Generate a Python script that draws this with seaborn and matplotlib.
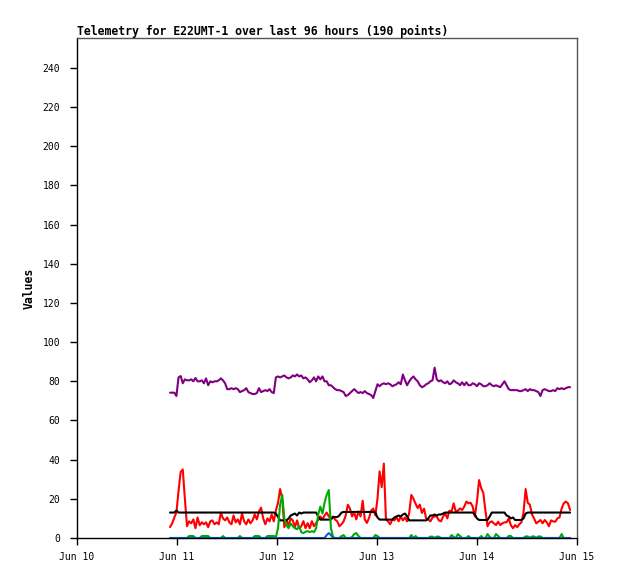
import pandas as pd
import seaborn as sns
import matplotlib.pyplot as plt
import matplotlib.dates as mdates

# 190 samples, last 96 hours
times = pd.date_range("2024-06-10 22:20", "2024-06-14 22:20", periods=190)

purple_vals = [
    74.2, 74.2, 74.2, 72.5, 82, 82.7, 79, 81, 80.5, 80.5,
    81, 80, 81.7, 80, 80, 80.5, 79, 81.5, 78, 80,
    79.5, 80, 80, 80.5, 81.5, 80.5, 79, 76, 76, 76.5,
    76, 76.5, 76, 74.5, 75, 75.5, 76.5, 74.5, 74, 73.5,
    73.5, 74, 76.5, 74.5, 75, 75.5, 75, 76, 74.5, 74,
    82, 82.5, 82, 82.5, 83, 82, 81.5, 82, 83, 82.5,
    83.5, 82.5, 83, 81.5, 82, 81, 79.5, 80.5, 82, 80,
    82.5, 81, 82.5, 80, 80, 78, 78, 77, 76, 75.5,
    75.5, 75, 74.5, 72.5, 73, 74, 75, 76, 75, 74,
    74.5, 74, 75, 74, 73.5, 73, 71.5, 75, 78.5, 77.5,
    78.5, 79, 78.5, 79, 78.5, 77.5, 78, 78.5, 79.5, 78.5,
    83.5, 80.5, 78, 80, 81.5, 82.5, 81, 80, 78, 77,
    77.5, 78.5, 79, 80, 80.5, 87, 81, 80, 80.5, 79.5,
    79, 80, 78.5, 79, 80.5, 79.5, 79, 78, 79.5, 78,
    79.5, 78, 78, 79, 78.5, 77.5, 79, 78.5, 77.5, 77.5,
    78, 79, 78, 77.5, 78, 77.5, 77, 78.5, 80, 78,
    76, 75.5, 75.5, 75.5, 75.5, 75, 75, 75.5, 76, 75,
    76, 75.5, 75.5, 75, 74.5, 72.5, 75.5, 76, 75.5, 75,
    75, 75.5, 75, 76.5, 76, 76.5, 76, 76.5, 77, 77,
]

red_vals = [
    5.6, 7.5, 10.5, 13, 24, 33.7, 35, 20, 6, 8.5,
    7.5, 9.5, 5, 10.5, 6.5, 8, 7, 8, 5.5, 8.5,
    9, 7, 8, 7, 13, 10, 9, 10.5, 8, 7,
    11.5, 8, 9.5, 7, 12.5, 8.5, 7, 9.5, 7.5, 9,
    12, 9.5, 13.5, 15.5, 10, 7, 10, 8.5, 12, 8.5,
    14, 18, 25, 20, 5.5, 9, 6.5, 10, 9, 5.5,
    9, 5, 6, 8.6, 5, 7.6, 5, 8.6, 6, 7.7,
    9.4, 11, 9.5, 11.5, 13, 11, 10, 11, 9.4, 8.5,
    6, 7, 8.5, 11.5, 17, 15, 11, 13, 9.5, 13.6,
    11, 19, 9.5, 7.7, 10.2, 14, 15, 11.5, 20, 34,
    26, 38, 9.5, 8.5, 7, 9.4, 9, 10.5, 8.5, 11,
    9, 10.5, 8.5, 13, 22, 20, 17.5, 15.3, 17, 12.8,
    15, 10, 9.4, 8.5, 10.5, 11, 11, 9, 8.5, 10.9,
    12.6, 10, 14, 13.4, 17.7, 13.4, 14, 15.1, 14.3, 16,
    18.6, 17.7, 18, 16, 11, 18.6, 29.6, 25.5, 23, 14,
    6, 8, 8.5, 7.5, 6.6, 8.3, 6.6, 7.5, 8, 8,
    10, 6.6, 5, 6.6, 5.5, 7, 8, 13, 25, 18,
    17, 12, 10, 7.5, 8.3, 9.2, 7.5, 9.2, 8, 6,
    9, 8.5, 8.3, 10, 10.5, 15, 17.7, 18.6, 17.7, 14.3,
]

black_vals = [
    13, 13, 13, 14, 13, 13, 13, 13, 13, 13,
    13, 13, 13, 13, 13, 13, 13, 13, 13, 13,
    13, 13, 13, 13, 13, 13, 13, 13, 13, 13,
    13, 13, 13, 13, 13, 13, 13, 13, 13, 13,
    13, 13, 13, 13, 13, 13, 13, 13, 13, 13,
    12.5, 10.7, 9, 9, 9, 9, 10, 11.5, 12, 12.5,
    11.5, 13, 12.5, 13, 13, 13, 13, 13, 13, 13,
    11, 9.4, 9.4, 9.4, 9.4, 9.4, 9.4, 10.7, 10.7, 10.7,
    11.5, 13, 13.3, 13.3, 13.3, 13.3, 13.3, 13.3, 13.3, 13.3,
    13.3, 13.3, 13.3, 13.3, 13.3, 13.3, 13.3, 13, 10.5, 9.4,
    9.4, 9.4, 9.4, 9.4, 9.4, 9.4, 10.5, 11, 11.5, 11,
    12, 12.5, 11, 9, 9, 9, 9, 9, 9, 9,
    9, 9, 10, 11.5, 11.5, 12, 11.5, 12, 12, 12.5,
    13, 13, 13, 13, 13, 13, 13, 13, 13, 13,
    13, 13, 13, 13, 12, 10, 9.2, 9.2, 9.2, 9.2,
    9.2, 11, 13, 13, 13, 13, 13, 13, 13, 11.5,
    11, 10, 10.5, 9.2, 9.2, 9.2, 9.2, 10, 12.5, 13,
    13, 13, 13, 13, 13, 13, 13, 13, 13, 13,
    13, 13, 13, 13, 13, 13, 13, 13, 13, 13,
]

green_vals = [
    0, 0, 0, 0, 0, 0, 0, 0, 0, 1,
    1, 1, 0, 0, 0, 1, 1, 1, 1, 0,
    0, 0, 0, 0, 0, 1, 0, 0, 0, 0,
    0, 0, 0, 1, 0, 0, 0, 0, 0, 0,
    1, 1, 1, 0, 0, 0, 1, 1, 1, 1,
    0.5, 5, 17, 22, 10, 6.5, 5, 7.5, 6, 5,
    4.5, 6, 3, 2.5, 3.2, 3.5, 3, 3.5, 3, 5,
    12, 16, 12.5, 18, 22, 24.5, 5, 0.5, 0, 0,
    0, 1, 1.5, 0, 0, 0, 0.5, 2, 2.5, 1,
    0, 0, 0, 0, 0, 0, 0, 1.5, 1, 0,
    0, 0, 0, 0, 0, 0, 0, 0, 0, 0,
    0, 0, 0, 0, 1.5, 0, 1, 0, 0, 0,
    0, 0, 0, 0.7, 0.7, 0, 0.7, 0.7, 0, 0,
    0, 0, 0, 1.5, 0.5, 0, 2, 1, 0, 0,
    0, 1, 0, 0, 0, 0, 0, 1, 0, 0,
    2, 0.5, 0, 0, 2, 1, 0, 0, 0, 0,
    1, 1, 0, 0, 0, 0, 0, 0, 0.8, 0.8,
    0, 0.8, 0.8, 0, 0.8, 0.8, 0, 0, 0, 0,
    0, 0, 0, 0, 0, 2, 0, 0, 0, 0,
]

blue_vals = [
    0, 0, 0, 0, 0, 0, 0, 0, 0, 0,
    0, 0, 0, 0, 0, 0, 0, 0, 0, 0,
    0, 0, 0, 0, 0, 0, 0, 0, 0, 0,
    0, 0, 0, 0, 0, 0, 0, 0, 0, 0,
    0, 0, 0, 0, 0, 0, 0, 0, 0, 0,
    0, 0, 0, 0, 0, 0, 0, 0, 0, 0,
    0, 0, 0, 0, 0, 0, 0, 0, 0, 0,
    0, 0, 0, 0, 1.5, 2.5, 1.5, 0, 0, 0,
    0, 0, 0, 0, 0, 0, 0, 0, 0, 0,
    0, 0, 0, 0, 0, 0, 0, 0, 0, 0,
    0, 0, 0, 0, 0, 0, 0, 0, 0, 0,
    0, 0, 0, 0, 0, 0, 0, 0, 0, 0,
    0, 0, 0, 0, 0, 0, 0, 0, 0, 0,
    0, 0, 0, 0, 0, 0, 0, 0, 0, 0,
    0, 0, 0, 0, 0, 0, 0, 0, 0, 0,
    0, 0, 0, 0, 0, 0, 0, 0, 0, 0,
    0, 0, 0, 0, 0, 0, 0, 0, 0, 0,
    0, 0, 0, 0, 0, 0, 0, 0, 0, 0,
    0, 0, 0, 0, 0, 0, 0, 0, 0, 0,
]

series_names = ['purple', 'red', 'black', 'green', 'blue']
series_colors = ['#800080', '#ff0000', '#000000', '#00aa00', '#0066cc']
series_vals = [purple_vals, red_vals, black_vals, green_vals, blue_vals]

df = pd.concat(
    [pd.DataFrame({'time': times, 'value': v, 'series': n})
     for n, v in zip(series_names, series_vals)],
    ignore_index=True)

sns.set_style('ticks')
plt.rcParams['font.family'] = ['DejaVu Sans Mono']
plt.rcParams['text.color'] = 'black'
plt.rcParams['axes.labelcolor'] = 'black'

fig = plt.figure(figsize=(6.18, 5.79), dpi=100)
ax = fig.add_axes([0.1246, 0.0708, 0.8091, 0.8636])

sns.lineplot(data=df, x='time', y='value', hue='series',
             hue_order=series_names, palette=series_colors,
             estimator=None, linewidth=1.5, legend=False, ax=ax)
for line in ax.lines:
    line.set_clip_on(False)

ax.set_xlim(pd.Timestamp('2024-06-10'), pd.Timestamp('2024-06-15'))
ax.set_ylim(0, 255.3)
ax.set_yticks(range(0, 241, 20))
ax.xaxis.set_major_locator(mdates.DayLocator())
ax.xaxis.set_major_formatter(mdates.DateFormatter('%b %d'))

ax.tick_params(length=5, width=1, labelsize=7, colors='black')
ax.tick_params(axis='y', pad=7)
ax.tick_params(axis='x', pad=5)

for side in ['left', 'bottom']:
    ax.spines[side].set_color('black')
    ax.spines[side].set_linewidth(1)
for side in ['top', 'right']:
    ax.spines[side].set_visible(True)
    ax.spines[side].set_color('#555555')
    ax.spines[side].set_linewidth(1)

ax.set_xlabel('')
ax.set_ylabel('Values', fontsize=8.3, fontweight='bold', color='black')
ax.yaxis.set_label_coords(-0.082, 0.5)
ax.set_title('Telemetry for E22UMT-1 over last 96 hours (190 points)',
             loc='left', fontsize=8.3, fontweight='bold', pad=2.5,
             color='black')

fig.savefig('out.png', dpi=100)
